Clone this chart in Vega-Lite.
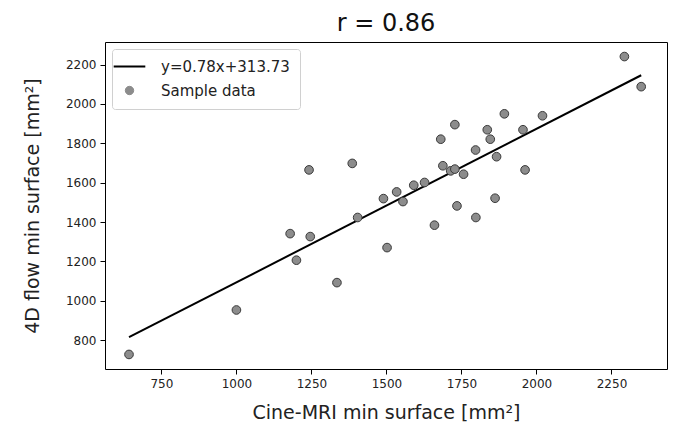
{
  "$schema": "https://vega.github.io/schema/vega-lite/v6.json",
  "width": 562,
  "height": 327,
  "autosize": {"type": "none"},
  "padding": {"left": 105, "top": 42, "right": 11, "bottom": 64},
  "background": "white",
  "config": {
    "view": {"stroke": "#000", "strokeWidth": 1},
    "font": "DejaVu Sans",
    "axis": {"grid": false, "domain": false, "tickColor": "#000", "tickSize": 5, "labelFont": "DejaVu Sans", "labelFontSize": 12, "labelColor": "#222", "titleFont": "DejaVu Sans", "titleFontSize": 19, "titleFontWeight": "normal", "titleColor": "#222", "labelPadding": 4, "format": "d"}
  },
  "title": {"text": "r = 0.86", "fontSize": 24, "font": "DejaVu Sans", "fontWeight": "normal", "color": "#111", "anchor": "middle", "offset": 6},
  "datasets": {
    "samples": [
      {"x": 642, "y": 727}, {"x": 1000, "y": 953}, {"x": 1179, "y": 1341}, {"x": 1200, "y": 1206},
      {"x": 1242, "y": 1665}, {"x": 1246, "y": 1326}, {"x": 1335, "y": 1092}, {"x": 1386, "y": 1698},
      {"x": 1404, "y": 1423}, {"x": 1490, "y": 1519}, {"x": 1502, "y": 1270}, {"x": 1534, "y": 1553},
      {"x": 1555, "y": 1504}, {"x": 1591, "y": 1587}, {"x": 1627, "y": 1601}, {"x": 1660, "y": 1384},
      {"x": 1681, "y": 1821}, {"x": 1688, "y": 1686}, {"x": 1714, "y": 1660}, {"x": 1728, "y": 1669},
      {"x": 1728, "y": 1895}, {"x": 1735, "y": 1482}, {"x": 1757, "y": 1643}, {"x": 1797, "y": 1766},
      {"x": 1798, "y": 1423}, {"x": 1836, "y": 1869}, {"x": 1846, "y": 1821}, {"x": 1867, "y": 1732},
      {"x": 1862, "y": 1521}, {"x": 1893, "y": 1950}, {"x": 1955, "y": 1869}, {"x": 1962, "y": 1665},
      {"x": 2020, "y": 1940}, {"x": 2293, "y": 2241}, {"x": 2349, "y": 2088}
    ],
    "fit": [
      {"x": 642, "y": 814.5},
      {"x": 2349, "y": 2146}
    ]
  },
  "encoding": {
    "x": {"field": "x", "type": "quantitative", "scale": {"domain": [562, 2435], "nice": false, "zero": false},
      "axis": {"values": [750, 1000, 1250, 1500, 1750, 2000, 2250], "title": "Cine-MRI min surface [mm²]", "titlePadding": 14}},
    "y": {"field": "y", "type": "quantitative", "scale": {"domain": [653, 2315], "nice": false, "zero": false},
      "axis": {"values": [800, 1000, 1200, 1400, 1600, 1800, 2000, 2200], "title": "4D flow min surface [mm²]", "titlePadding": 23}}
  },
  "layer": [
    {
      "data": {"name": "fit"},
      "mark": {"type": "line", "strokeWidth": 2},
      "encoding": {
        "color": {"datum": "y=0.78x+313.73", "type": "nominal",
          "scale": {"domain": ["y=0.78x+313.73", "Sample data"], "range": ["#000000", "#8c8c8c"]},
          "legend": {
            "title": null, "orient": "top-left", "offset": 7, "padding": 10,
            "strokeColor": "#d0d0d0", "fillColor": "white", "cornerRadius": 3,
            "labelFont": "DejaVu Sans", "labelFontSize": 15, "labelColor": "#222", "labelOffset": 24,
            "rowPadding": 8, "symbolSize": 1000,
            "encode": {"symbols": {"update": {
              "shape": {"signal": "datum.value === 'Sample data' ? 'circle' : 'stroke'"},
              "fill": {"signal": "datum.value === 'Sample data' ? '#8c8c8c' : 'transparent'"},
              "stroke": {"signal": "datum.value === 'Sample data' ? '#3a3a3a' : '#111111'"},
              "strokeWidth": {"signal": "datum.value === 'Sample data' ? 1 : 2"},
              "size": {"signal": "datum.value === 'Sample data' ? 70 : 1000"},
              "opacity": {"value": 1}
            }}}
          }}
      }
    },
    {
      "data": {"name": "samples"},
      "mark": {"type": "point", "filled": true, "size": 75, "stroke": "#3a3a3a", "strokeWidth": 1, "opacity": 1},
      "encoding": {
        "color": {"datum": "Sample data", "type": "nominal"}
      }
    }
  ]
}
